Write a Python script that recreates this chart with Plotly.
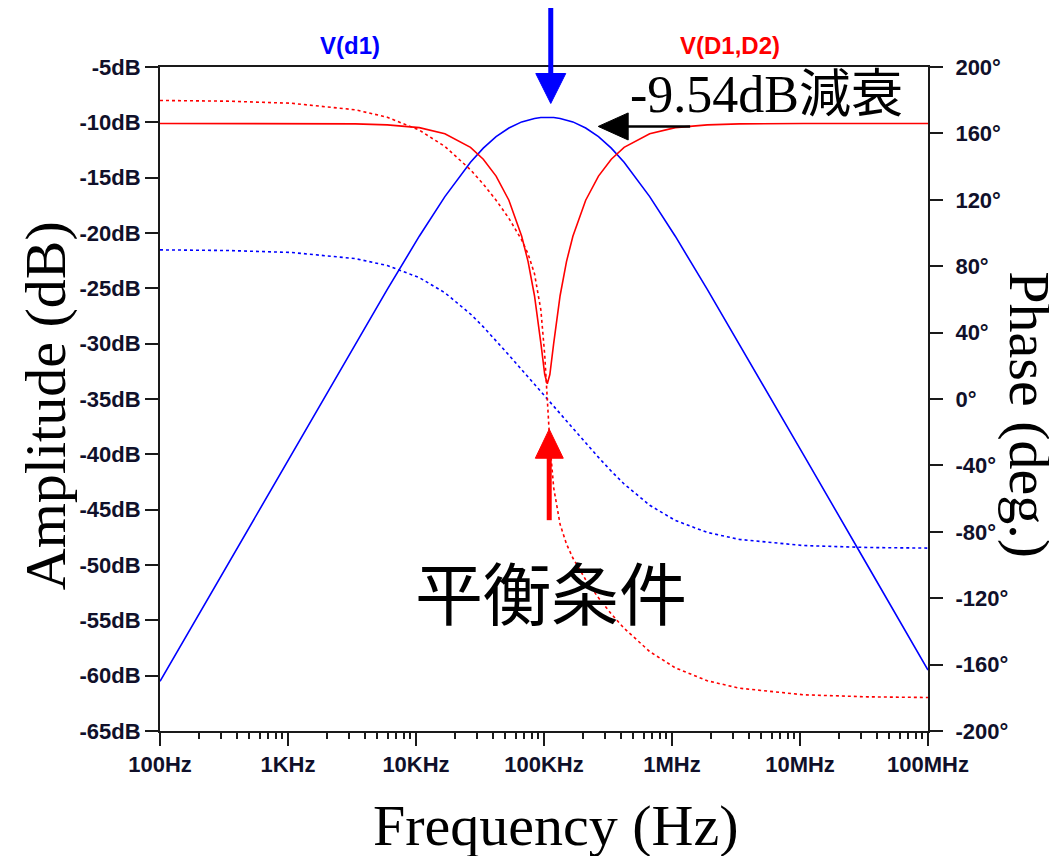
import plotly.graph_objects as go

# ---- data (LTspice AC sweep of a Wien bridge) ----
freq_hz = [100, 335.5, 1061, 3355, 5966, 10610, 16816, 26651, 33552, 42240,
           53176, 66945, 75114, 84279, 94562, 101325, 106100, 111099, 119047,
           133574, 149873, 168158, 211698, 266510, 335519, 422396, 669453,
           1061000, 1886700, 3355200, 10610000, 33552000, 100000000]

vd1_db = [-60.51, -50.00, -40.00, -30.03, -25.10, -20.29, -16.71, -13.60, -12.33, -11.29,
          -10.51, -9.96, -9.78, -9.65, -9.57, -9.55, -9.54, -9.55, -9.57,
          -9.65, -9.78, -9.96, -10.51, -11.29, -12.33, -13.60, -16.71,
          -20.29, -25.10, -30.03, -40.00, -50.00, -59.49]

vd1_deg = [89.84, 89.46, 88.28, 84.58, 80.39, 73.14, 64.00, 51.19, 43.49, 35.17,
           26.47, 17.64, 13.22, 8.80, 4.40, 1.76, 0.00, -1.76, -4.40,
           -8.80, -13.22, -17.64, -26.47, -35.17, -43.49, -51.19, -64.00,
           -73.14, -80.39, -84.58, -88.28, -89.46, -89.82]

vdd_db = [-10.10, -10.10, -10.11, -10.14, -10.23, -10.48, -11.03, -12.26, -13.33, -14.86,
          -17.04, -20.29, -22.58, -25.67, -29.97, -32.79, -33.62, -32.79, -29.97,
          -25.67, -22.58, -20.29, -17.04, -14.86, -13.33, -12.26, -11.03,
          -10.48, -10.23, -10.14, -10.11, -10.10, -10.10]

vdd_deg = [179.83, 179.42, 178.17, 174.21, 169.75, 161.98, 152.14, 138.12, 129.47, 119.76,
           108.85, 95.80, 87.37, 75.51, 53.49, 26.50, 0.00, -26.50, -53.49,
           -75.51, -87.37, -95.80, -108.85, -119.76, -129.47, -138.12, -152.14,
           -161.98, -169.75, -174.21, -178.17, -179.42, -179.82]

x_tickvals = [1e2, 1e3, 1e4, 1e5, 1e6, 1e7, 1e8]
x_ticktext = ["100Hz", "1KHz", "10KHz", "100KHz", "1MHz", "10MHz", "100MHz"]
y_tickvals = [-5, -10, -15, -20, -25, -30, -35, -40, -45, -50, -55, -60, -65]
y_ticktext = [f"{v}dB" for v in y_tickvals]
y2_tickvals = [200, 160, 120, 80, 40, 0, -40, -80, -120, -160, -200]
y2_ticktext = [f"{v}°" for v in y2_tickvals]

BLUE = "#0000ff"
RED = "#ff0000"
TICKFONT = dict(family="Liberation Sans, Arial", size=22, color="#10102a", weight="bold")
SERIF = "Liberation Serif, Times New Roman"
CJK = "Noto Sans CJK JP"

fig = go.Figure()
fig.add_trace(go.Scatter(x=freq_hz, y=vd1_db, mode="lines", line=dict(color=BLUE, width=1.6), yaxis="y"))
fig.add_trace(go.Scatter(x=freq_hz, y=vd1_deg, mode="lines", line=dict(color=BLUE, width=1.6, dash="dot"), yaxis="y2"))
fig.add_trace(go.Scatter(x=freq_hz, y=vdd_db, mode="lines", line=dict(color=RED, width=1.6), yaxis="y"))
fig.add_trace(go.Scatter(x=freq_hz, y=vdd_deg, mode="lines", line=dict(color=RED, width=1.6, dash="dot"), yaxis="y2"))

axis_common = dict(showgrid=False, zeroline=False, showline=True, linecolor="#1a1a1a", linewidth=2,
                   ticks="outside", ticklen=13, tickwidth=2, tickcolor="#1a1a1a", tickfont=TICKFONT)

fig.update_layout(
    width=1057, height=856,
    margin=dict(l=152, r=137, t=59, b=133, autoexpand=False),
    paper_bgcolor="white", plot_bgcolor="white",
    showlegend=False,
    xaxis=dict(type="log", range=[2, 8], tickvals=x_tickvals, ticktext=x_ticktext, mirror=True,
               minor=dict(ticks="outside", ticklen=6, tickwidth=1.5, tickcolor="#1a1a1a", dtick="D1"),
               **axis_common),
    yaxis=dict(range=[-65, -5], tickvals=y_tickvals, ticktext=y_ticktext, **axis_common),
    yaxis2=dict(range=[-200, 200], tickvals=y2_tickvals, ticktext=y2_ticktext, overlaying="y",
                side="right", anchor="x", ticklabelstandoff=8, **axis_common),
)


def note(text, x, y, font, angle=0):
    return dict(text=text, x=x, y=y, xref="paper", yref="paper", showarrow=False,
                xanchor="center", yanchor="middle", textangle=angle, font=font)


ann = [
    note("V(d1)", 0.248, 1.032, dict(family="Liberation Sans, Arial", size=24, color=BLUE, weight="bold")),
    note("V(D1,D2)", 0.742, 1.032, dict(family="Liberation Sans, Arial", size=24, color=RED, weight="bold")),
    note("Amplitude (dB)", -0.149, 0.49, dict(family=SERIF, size=58, color="black"), -90),
    note("Phase (deg.)", 1.131, 0.476, dict(family=SERIF, size=58, color="black"), 90),
    note("Frequency (Hz)", 0.515, -0.142, dict(family=SERIF, size=58, color="black")),
    note(f"-9.54dB<span style=\"font-family:{CJK}\">減衰</span>", 0.79, 0.966,
         dict(family=SERIF, size=52, color="black")),
    note("平衡条件", 0.509, 0.212, dict(family=CJK, size=68, color="black")),
]
fig.update_layout(annotations=ann)

shapes = []
# blue arrow (down)
shapes.append(dict(type="line", xref="paper", yref="paper", x0=0.5088, x1=0.5088, y0=1.12, y1=0.985,
                   line=dict(color=BLUE, width=5)))
shapes.append(dict(type="path", xref="paper", yref="paper",
                   path="M 0.4893 0.9902 L 0.5283 0.9902 L 0.5088 0.9451 Z",
                   fillcolor=BLUE, line=dict(color=BLUE, width=1)))
# red arrow (up)
shapes.append(dict(type="line", xref="paper", yref="paper", x0=0.5068, x1=0.5068, y0=0.4153, y1=0.3175,
                   line=dict(color=RED, width=5)))
shapes.append(dict(type="path", xref="paper", yref="paper",
                   path="M 0.4887 0.4108 L 0.5251 0.4108 L 0.5068 0.4545 Z",
                   fillcolor=RED, line=dict(color=RED, width=1)))
# black arrow (left)
shapes.append(dict(type="line", xref="paper", yref="paper", x0=0.6060, x1=0.6903, y0=0.9105, y1=0.9105,
                   line=dict(color="black", width=2.5)))
shapes.append(dict(type="path", xref="paper", yref="paper",
                   path="M 0.6096 0.9308 L 0.6096 0.8901 L 0.5706 0.9105 Z",
                   fillcolor="black", line=dict(color="black", width=1)))
fig.update_layout(shapes=shapes)

fig.write_html("out.html")
